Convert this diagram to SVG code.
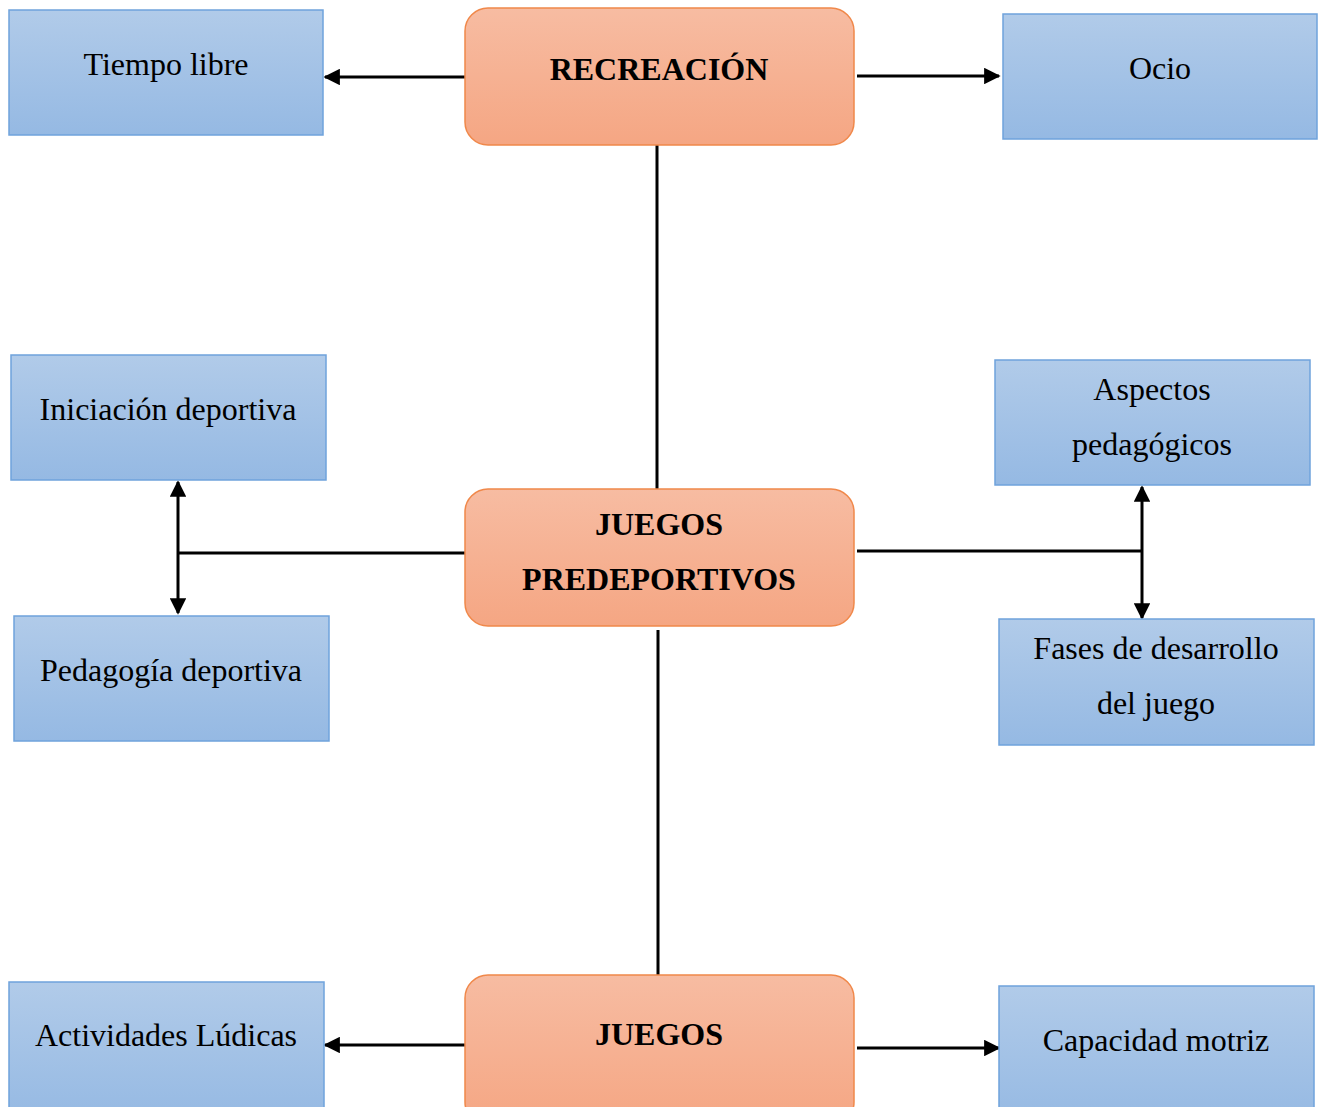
<svg xmlns="http://www.w3.org/2000/svg" width="1325" height="1107" viewBox="0 0 1325 1107">
<defs>
<linearGradient id="gb" x1="0" y1="0" x2="0" y2="1"><stop offset="0" stop-color="#b1cbe9"/><stop offset="1" stop-color="#95b9e3"/></linearGradient>
<linearGradient id="go" x1="0" y1="0" x2="0" y2="1"><stop offset="0" stop-color="#f7bca2"/><stop offset="1" stop-color="#f5a683"/></linearGradient>
<marker id="ah" viewBox="0 0 10 10" refX="9" refY="5" markerWidth="5.5" markerHeight="5.5" orient="auto-start-reverse" markerUnits="strokeWidth"><path d="M0,0 L10,5 L0,10 z" fill="#000"/></marker>
<style>
.b{fill:url(#gb);stroke:#6fa3dc;stroke-width:1.5}
.o{fill:url(#go);stroke:#f0884a;stroke-width:1.5}
.t{font-family:"Liberation Serif","Times New Roman",serif;font-size:32px;fill:#000;text-anchor:middle}
.tb{font-family:"Liberation Serif","Times New Roman",serif;font-size:32px;font-weight:bold;fill:#000;text-anchor:middle}
.c{stroke:#000;stroke-width:3;fill:none}
</style>
</defs>
<g id="connectors">
<line class="c" x1="465" y1="77" x2="325" y2="77" marker-end="url(#ah)"/>
<line class="c" x1="857" y1="76" x2="999" y2="76" marker-end="url(#ah)"/>
<line class="c" x1="657" y1="145" x2="657" y2="489"/>
<line class="c" x1="178" y1="482" x2="178" y2="613" marker-start="url(#ah)" marker-end="url(#ah)"/>
<line class="c" x1="178" y1="553" x2="465" y2="553"/>
<line class="c" x1="1142" y1="487" x2="1142" y2="618" marker-start="url(#ah)" marker-end="url(#ah)"/>
<line class="c" x1="857" y1="551" x2="1142" y2="551"/>
<line class="c" x1="658" y1="630" x2="658" y2="975"/>
<line class="c" x1="465" y1="1045" x2="325" y2="1045" marker-end="url(#ah)"/>
<line class="c" x1="857" y1="1048" x2="999" y2="1048" marker-end="url(#ah)"/>
</g>
<g id="recreacion"><rect class="o" x="465" y="8" width="389" height="137" rx="23"/><text class="tb" x="659" y="80">RECREACIÓN</text></g>
<g id="tiempo-libre"><rect class="b" x="9" y="10" width="314" height="125"/><text class="t" x="166" y="75">Tiempo libre</text></g>
<g id="ocio"><rect class="b" x="1003" y="14" width="314" height="125"/><text class="t" x="1160" y="79">Ocio</text></g>
<g id="juegos-predeportivos"><rect class="o" x="465" y="489" width="389" height="137" rx="23"/><text class="tb" x="659" y="535">JUEGOS</text><text class="tb" x="659" y="590">PREDEPORTIVOS</text></g>
<g id="iniciacion"><rect class="b" x="11" y="355" width="315" height="125"/><text class="t" x="168" y="420">Iniciación deportiva</text></g>
<g id="pedagogia"><rect class="b" x="14" y="616" width="315" height="125"/><text class="t" x="171" y="681">Pedagogía deportiva</text></g>
<g id="aspectos"><rect class="b" x="995" y="360" width="315" height="125"/><text class="t" x="1152" y="400">Aspectos</text><text class="t" x="1152" y="455">pedagógicos</text></g>
<g id="fases"><rect class="b" x="999" y="619" width="315" height="126"/><text class="t" x="1156" y="659">Fases de desarrollo</text><text class="t" x="1156" y="714">del juego</text></g>
<g id="juegos"><rect class="o" x="465" y="975" width="389" height="150" rx="23"/><text class="tb" x="659" y="1045">JUEGOS</text></g>
<g id="actividades"><rect class="b" x="9" y="982" width="315" height="140"/><text class="t" x="166" y="1046">Actividades Lúdicas</text></g>
<g id="capacidad"><rect class="b" x="999" y="986" width="315" height="140"/><text class="t" x="1156" y="1051">Capacidad motriz</text></g>
</svg>
